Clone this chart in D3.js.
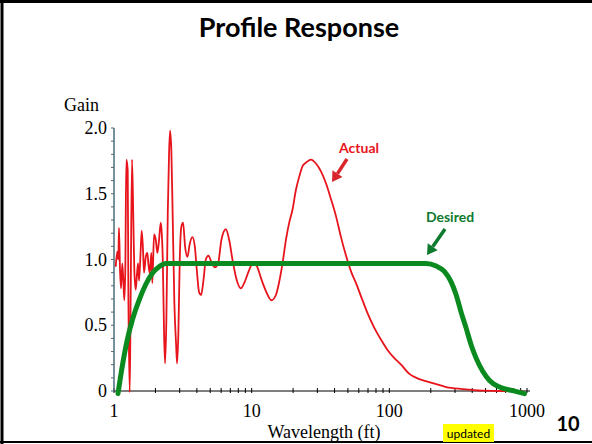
<!DOCTYPE html>
<html>
<head>
<meta charset="utf-8">
<script src="https://cdn.jsdelivr.net/npm/d3@7"></script>
<style>
  body { margin: 0; background: #fff; }
  svg { display: block; }
</style>
</head>
<body>
<svg id="chart" width="592" height="444"></svg>
<script>
// desired (green) response
var desiredFt   = [1.069, 1.149, 1.249, 1.359, 1.52, 1.70, 1.90, 2.125, 2.38, 100, 185, 219, 251, 281, 306, 332, 361, 393, 427, 477, 534, 631, 788, 959];
var desiredGain = [-0.02, 0.19, 0.39, 0.54, 0.69, 0.81, 0.895, 0.945, 0.97, 0.97, 0.97, 0.95, 0.91, 0.83, 0.73, 0.6, 0.48, 0.35, 0.25, 0.15, 0.08, 0.03, 0.003, -0.02];

// actual (red) response
var actualFt = [1.029, 1.057, 1.075, 1.087, 1.106, 1.124, 1.149, 1.169, 1.188, 1.208,
  1.229, 1.258, 1.271, 1.301, 1.323, 1.352, 1.382, 1.405, 1.438, 1.47,
  1.495, 1.52, 1.553, 1.59, 1.625, 1.653, 1.701, 1.747, 1.776, 1.818,
  1.867, 1.899, 1.954, 2.011, 2.065, 2.125, 2.186, 2.223, 2.261, 2.31,
  2.349, 2.401, 2.458, 2.512, 2.554, 2.61, 2.672, 2.745, 2.824, 2.872,
  2.935, 3.004, 3.086, 3.175, 3.283, 3.413, 3.552, 3.711, 3.863, 3.995,
  4.152, 4.293, 4.462, 4.645, 4.851, 5.101, 5.4, 5.706, 6.031, 6.494,
  6.862, 7.252, 7.805, 8.346, 8.82, 9.59, 10.31, 11.02, 11.67, 12.69,
  13.93, 15.0, 15.85, 16.75, 17.74, 18.74, 19.81, 20.97, 22.16, 23.42,
  25.03, 26.95, 29.31, 31.87, 34.65, 37.67, 40.96, 44.54, 48.43, 52.66,
  57.27, 62.27, 69.55, 77.81, 87.0, 97.2, 108.7, 121.7, 139.8, 165.3,
  206.5, 258.5, 341.3, 477, 667, 932];
var actualGain = [0.945, 1.06, 1.0, 1.24, 0.92, 0.78, 0.97, 0.84, 0.69, 0.92,
  1.76, 1.68, 0.79, -0.01, 0.79, 1.76, 1.3, 0.92, 0.77, 0.895,
  0.97, 0.84, 1.01, 1.22, 1.07, 0.9, 1.02, 1.05, 0.97, 0.895,
  1.05, 0.82, 1.19, 1.15, 1.05, 1.15, 1.28, 1.2, 1.0, 0.44,
  0.21, 0.54, 1.35, 1.81, 1.98, 1.83, 1.3, 0.67, 0.36, 0.21,
  0.44, 1.0, 1.25, 1.28, 1.1, 1.02, 1.12, 1.17, 1.1, 0.92,
  0.75, 0.73, 0.84, 1.0, 1.03, 0.98, 0.94, 0.97, 1.15, 1.23,
  1.15, 1.0, 0.84, 0.78, 0.82, 0.92, 0.98, 0.94, 0.86, 0.76,
  0.69, 0.73, 0.83, 0.97, 1.15, 1.28, 1.38, 1.53, 1.63, 1.71,
  1.74, 1.76, 1.73, 1.67, 1.58, 1.46, 1.33, 1.17, 1.03, 0.91,
  0.82, 0.72, 0.59, 0.48, 0.39, 0.31, 0.25, 0.2, 0.13, 0.09,
  0.06, 0.03, 0.015, 0.003, 0, 0];

var yTickValues = [0, 0.5, 1, 1.5, 2];
var yTickLabels = ["0", "0.5", "1.0", "1.5", "2.0"];
var xTickValues = [1, 10, 100, 1000];
var xTickLabels = ["1", "10", "100", "1000"];

var svg = d3.select("#chart");

var x = d3.scaleLog().domain([1, 1000]).range([114, 527]);
var y = d3.scaleLinear().domain([0, 2]).range([391, 128]);

// slide frame
svg.append("line").attr("x1", 0).attr("x2", 592).attr("y1", 1.5).attr("y2", 1.5).attr("stroke", "#000").attr("stroke-width", 3);
svg.append("line").attr("x1", 2).attr("x2", 2).attr("y1", 0).attr("y2", 444).attr("stroke", "#000").attr("stroke-width", 3);
svg.append("line").attr("x1", 0).attr("x2", 592).attr("y1", 442).attr("y2", 442).attr("stroke", "#000").attr("stroke-width", 2);

svg.append("text").attr("x", 299).attr("y", 37).attr("text-anchor", "middle")
  .style("font-family", "Lato, 'Open Sans', sans-serif").style("font-weight", "bold").style("font-size", "27px")
  .text("Profile Response");

// minor ticks
var yMinor = d3.range(0, 2.0001, 0.1);
var xMinor = [];
[1, 10, 100].forEach(function(d){ for (var k = 1; k <= 9; k++) xMinor.push(d * k); });
xMinor.push(1000);

var ax = svg.append("g");
ax.append("line").attr("x1", 114).attr("x2", 530).attr("y1", y(0)).attr("y2", y(0)).attr("stroke", "#000").attr("stroke-width", 1.2);
ax.selectAll(".xt").data(xMinor).enter().append("line")
  .attr("x1", function(d){ return x(d); }).attr("x2", function(d){ return x(d); })
  .attr("y1", y(0) - 3).attr("y2", y(0) + 2).attr("stroke", "#000").attr("stroke-width", 1);

ax.append("line").attr("x1", 114).attr("x2", 114).attr("y1", y(0)).attr("y2", y(2)).attr("stroke", "#4b6b7b").attr("stroke-width", 1.5);
ax.selectAll(".yt").data(yMinor).enter().append("line")
  .attr("x1", 111).attr("x2", 114)
  .attr("y1", function(d){ return y(d); }).attr("y2", function(d){ return y(d); })
  .attr("stroke", "#4b6b7b").attr("stroke-width", 1);

var serif = "'Liberation Serif', 'Times New Roman', serif";
ax.selectAll(".yl").data(yTickValues).enter().append("text")
  .attr("x", 107).attr("y", function(d){ return y(d) + 6; })
  .attr("text-anchor", "end").style("font-family", serif).style("font-size", "18px")
  .text(function(d, i){ return yTickLabels[i]; });
ax.selectAll(".xl").data(xTickValues).enter().append("text")
  .attr("x", function(d){ return x(d); }).attr("y", 417)
  .attr("text-anchor", "middle").style("font-family", serif).style("font-size", "18px")
  .text(function(d, i){ return xTickLabels[i]; });

svg.append("text").attr("x", 64).attr("y", 111).style("font-family", serif).style("font-size", "18px").text("Gain");
svg.append("text").attr("x", 324).attr("y", 438).attr("text-anchor", "middle").style("font-family", serif).style("font-size", "18px").text("Wavelength (ft)");

// curves
var line = d3.line()
  .x(function(d){ return x(d[0]); })
  .y(function(d){ return y(d[1]); })
  .curve(d3.curveMonotoneX);

var desired = desiredFt.map(function(d, i){ return [d, desiredGain[i]]; });
var actual = actualFt.map(function(d, i){ return [d, actualGain[i]]; });

svg.append("path").attr("d", line(actual)).attr("fill", "none").attr("stroke", "#e8141c").attr("stroke-width", 1.8).attr("stroke-linejoin", "round");
svg.append("path").attr("d", line(desired)).attr("fill", "none").attr("stroke", "#0b8a1f").attr("stroke-width", 5).attr("stroke-linecap", "round");

// annotations
function arrow(x1, y1, x2, y2, color) {
  var ang = Math.atan2(y2 - y1, x2 - x1);
  var hl = 10, hw = 6;
  var bx = x2 - hl * Math.cos(ang), by = y2 - hl * Math.sin(ang);
  svg.append("line").attr("x1", x1).attr("y1", y1).attr("x2", bx).attr("y2", by).attr("stroke", color).attr("stroke-width", 3.5);
  var px = -Math.sin(ang) * hw, py = Math.cos(ang) * hw;
  svg.append("path").attr("d", "M" + x2 + "," + y2 + "L" + (bx + px) + "," + (by + py) + "L" + (bx - px) + "," + (by - py) + "Z").attr("fill", color);
}
var sans = "Lato, 'Open Sans', sans-serif";
svg.append("text").attr("x", 359).attr("y", 153).attr("text-anchor", "middle").style("font-family", sans).style("font-weight", "bold").style("font-size", "14px").attr("fill", "#e8141c").text("Actual");
arrow(347, 159, 332, 182, "#d9262c");
svg.append("text").attr("x", 450).attr("y", 222).attr("text-anchor", "middle").style("font-family", sans).style("font-weight", "bold").style("font-size", "14px").attr("fill", "#0e7a2e").text("Desired");
arrow(445, 229, 427, 255, "#0e7a2e");

// footer
svg.append("rect").attr("x", 443).attr("y", 424).attr("width", 51).attr("height", 18).attr("fill", "#ffff00");
svg.append("text").attr("x", 468.5).attr("y", 438).attr("text-anchor", "middle").style("font-family", sans).style("font-size", "12px").text("updated");
svg.append("text").attr("x", 568).attr("y", 431).attr("text-anchor", "middle").style("font-family", sans).style("font-weight", "bold").style("font-size", "20px").text("10");
</script>
</body>
</html>
